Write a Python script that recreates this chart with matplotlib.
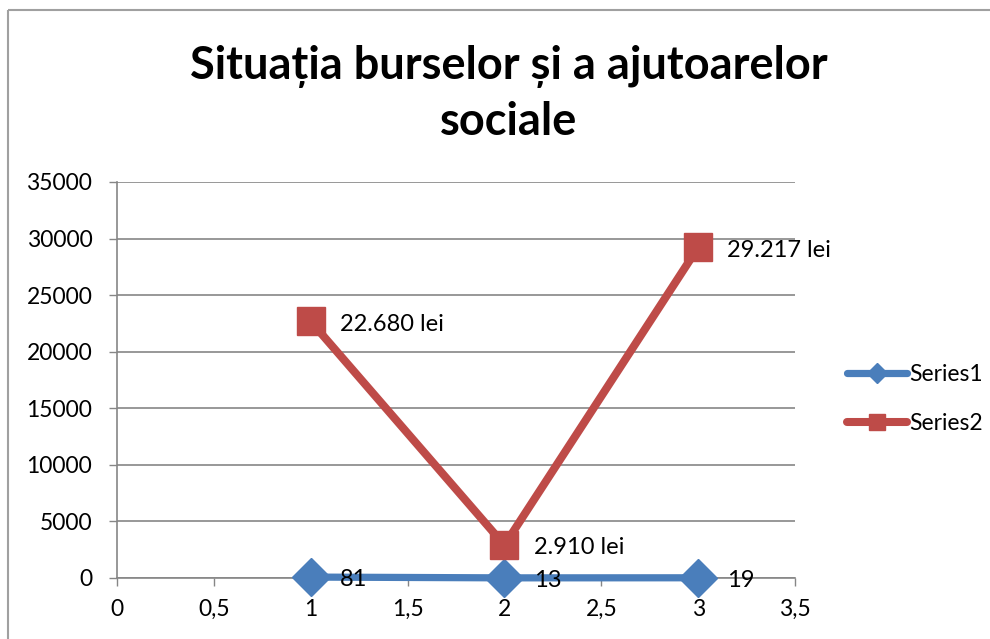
import numpy as np
import matplotlib
matplotlib.use("Agg")
import matplotlib.pyplot as plt
from matplotlib.lines import Line2D

plt.rcParams['font.family'] = ['Lato', 'DejaVu Sans']

# data
x_vals = [1, 2, 3]
series1 = [81, 13, 19]
series2 = [22680, 2910, 29217]
series1_labels = ["81", "13", "19"]
series2_labels = ["22.680 lei", "2.910 lei", "29.217 lei"]
series_names = ["Series1", "Series2"]
title = "Situația burselor și a ajutoarelor\nsociale"
x_ticks = [0, 0.5, 1, 1.5, 2, 2.5, 3, 3.5]
x_ticklabels = ["0", "0,5", "1", "1,5", "2", "2,5", "3", "3,5"]
y_ticks = [0, 5000, 10000, 15000, 20000, 25000, 30000, 35000]

BLUE = '#4A7EBB'
RED = '#BE4B48'
GRID = '#868686'
TICK_SIZE = 16.5
LABEL_SIZE = 17

fig = plt.figure(figsize=(9.9, 6.39), dpi=100)
ax = fig.add_axes([117/990, 1-578/639, (795-117)/990, (578-182)/639])

ax.plot(x_vals, series1, color=BLUE, lw=5.2, marker='D', ms=19, clip_on=False,
        mfc=BLUE, mec=BLUE, solid_capstyle='round', zorder=3, label=series_names[0])
ax.plot(x_vals, series2, color=RED, lw=5.8, marker='s', ms=19.5, clip_on=False,
        mfc=RED, mec=RED, solid_capstyle='round', zorder=3, label=series_names[1])

for xv, yv, t in zip(x_vals, series1, series1_labels):
    ax.annotate(t, (xv, yv), xytext=(21, -2), textcoords='offset points',
                ha='left', va='center', fontsize=LABEL_SIZE, zorder=4)
for xv, yv, t in zip(x_vals, series2, series2_labels):
    ax.annotate(t, (xv, yv), xytext=(21, -2), textcoords='offset points',
                ha='left', va='center', fontsize=LABEL_SIZE, zorder=4)

ax.set_xlim(0, 3.5)
ax.set_ylim(0, 35000)
ax.set_xticks(x_ticks)
ax.set_xticklabels(x_ticklabels)
ax.set_yticks(y_ticks)
ax.set_yticklabels([str(v) for v in y_ticks])
ax.tick_params(axis='both', direction='out', length=5.8, width=1, color=GRID,
               labelsize=TICK_SIZE)
ax.tick_params(axis='y', pad=12)
ax.tick_params(axis='x', pad=9)

ax.grid(axis='y', color=GRID, lw=1.2)
ax.set_axisbelow(True)
for s in ['top', 'right']:
    ax.spines[s].set_visible(False)
for s in ['left', 'bottom']:
    ax.spines[s].set_color(GRID)
    ax.spines[s].set_linewidth(1.2)

fig.text(509/990, 1-94/639, title, ha='center', va='center', fontsize=32.5,
         fontweight='bold', linespacing=1.38)

# legend
handles = [Line2D([], [], color=BLUE, lw=5.2, marker='D', ms=10, solid_capstyle='round'),
           Line2D([], [], color=RED, lw=5.8, marker='s', ms=11, solid_capstyle='round')]
fig.legend(handles, series_names, loc='center left',
           bbox_to_anchor=(847/990, 1-399/639), frameon=False,
           fontsize=TICK_SIZE, handlelength=2.6, handletextpad=0.12,
           labelspacing=1.25, borderpad=0, borderaxespad=0)

# chart border, cut off on the right and bottom like the reference
fig.add_artist(Line2D([8/990, 8/990], [-0.01, 1-10/639], color='#A0A0A0', lw=1.5,
                      solid_capstyle='butt', transform=fig.transFigure))
fig.add_artist(Line2D([8/990, 1.01], [1-10/639, 1-10/639], color='#A0A0A0', lw=1.5,
                      solid_capstyle='butt', transform=fig.transFigure))

plt.savefig('out.png', dpi=100)
